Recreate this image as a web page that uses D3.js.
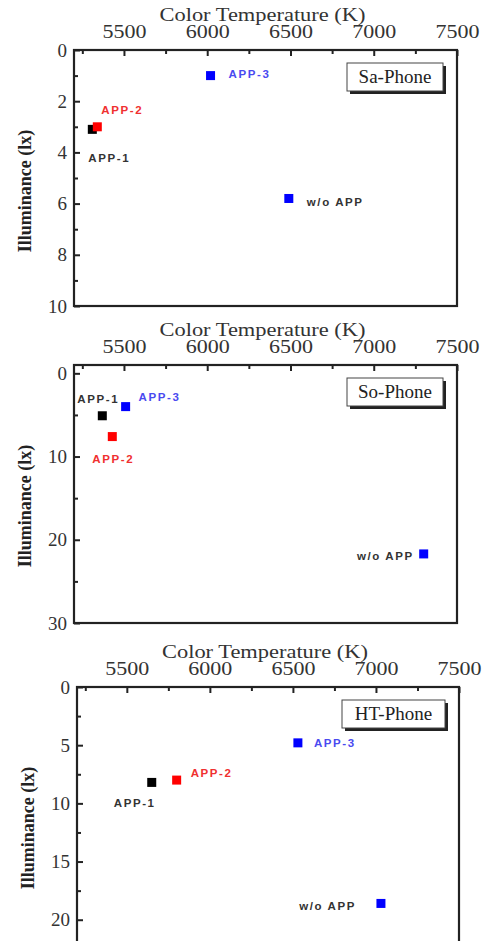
<!DOCTYPE html>
<html>
<head>
<meta charset="utf-8">
<script src="https://cdn.jsdelivr.net/npm/d3@7"></script>
<style>
  body { margin: 0; background: #fff; }
  .axis-title { font-family: "Liberation Serif", serif; font-size: 19px; fill: #333; }
  .y-title { font-family: "Liberation Serif", serif; font-size: 18px; font-weight: bold; fill: #222; }
  .tick-label { font-family: "Liberation Serif", serif; font-size: 19px; fill: #333; }
  .pt-label { font-family: "Liberation Sans", Arial, sans-serif; font-size: 11.5px; font-weight: bold; letter-spacing: 1.6px; }
  .phone-name { font-family: "Liberation Serif", serif; font-size: 19px; fill: #222; }
</style>
</head>
<body>
<div id="chart"></div>
<script>
// values
const pointNames = ["APP-1", "APP-2", "APP-3", "w/o APP"];
const phoneNames = ["Sa-Phone", "So-Phone", "HT-Phone"];

const saTemp = [5310, 5340, 6020, 6490];
const saLux = [3.1, 3.0, 1.0, 5.8];
const soTemp = [5370, 5430, 5510, 7300];
const soLux = [5.1, 7.6, 4.0, 21.7];
const htTemp = [5650, 5800, 6530, 7030];
const htLux = [8.2, 8.0, 4.8, 18.6];

const tempTicks = [5500, 6000, 6500, 7000, 7500];
const tempMinor = [5250, 5750, 6250, 6750, 7250];
const saLuxTicks = [0, 2, 4, 6, 8, 10];
const saLuxMinor = [1, 3, 5, 7, 9];
const soLuxTicks = [0, 10, 20, 30];
const soLuxMinor = [5, 15, 25];
const htLuxTicks = [0, 5, 10, 15, 20];
const htLuxMinor = [2.5, 7.5, 12.5, 17.5];

const tempDomain = [5200, 7500];
const saLuxDomain = [0, 10];
const soLuxDomain = [-1, 30];
const htLuxDomain = [0, 22];

// styles / layout
const markerColors = ["#000", "#ff0000", "#0000ff", "#0000ff"];
const labelColors = ["#333", "#f03030", "#4a4af0", "#333"];

// label offsets from the marker, per panel [dx, dy, anchor]
const saLabelPos = [[-4, 33, "start"], [4, -13, "start"], [18, 2, "start"], [18, 8, "start"]];
const soLabelPos = [[-25, -13, "start"], [-20, 26, "start"], [13, -6, "start"], [-10, 6, "end"]];
const htLabelPos = [[-38, 25, "start"], [14, -3, "start"], [16, 4, "start"], [-25, 7, "end"]];

const svg = d3.select("#chart").append("svg")
    .attr("width", 486)
    .attr("height", 941);

function PhonePanel(svg, opts) {
    let vis = this;
    vis.svg = svg;
    vis.opts = opts;
    vis.initVis();
}

PhonePanel.prototype.initVis = function() {
    let vis = this;
    let o = vis.opts;
    vis.width = o.width;
    vis.height = o.height;

    vis.g = vis.svg.append("g")
        .attr("transform", "translate(" + o.left + "," + o.top + ")");

    vis.x = d3.scaleLinear().domain(tempDomain).range([0, vis.width]);
    vis.y = d3.scaleLinear().domain(o.yDomain).range([0, vis.height]);

    vis.updateVis();
}

PhonePanel.prototype.updateVis = function() {
    let vis = this;
    let o = vis.opts;

    // frame
    vis.g.append("rect")
        .attr("x", 0).attr("y", 0)
        .attr("width", vis.width).attr("height", vis.height)
        .attr("fill", "none")
        .attr("stroke", "#222")
        .attr("stroke-width", 2.2);

    // top axis (ticks point inward)
    let xAxis = vis.g.append("g")
        .call(d3.axisTop(vis.x).tickValues(tempTicks).tickSize(-6).tickPadding(12)
            .tickFormat(d3.format("d")));
    let xMinor = vis.g.append("g")
        .call(d3.axisTop(vis.x).tickValues(tempMinor).tickSize(-4).tickFormat(""));

    // left axis
    let yAxis = vis.g.append("g")
        .call(d3.axisLeft(vis.y).tickValues(o.yTicks).tickSize(-6).tickPadding(7));
    let yMinor = vis.g.append("g")
        .call(d3.axisLeft(vis.y).tickValues(o.yMinor).tickSize(-4).tickFormat(""));

    [xAxis, xMinor, yAxis, yMinor].forEach(a => {
        a.select(".domain").remove();
        a.selectAll(".tick line").attr("stroke", "#222").attr("stroke-width", 2);
    });
    [xAxis, yAxis].forEach(a => {
        a.attr("font-family", null).attr("font-size", null);
        a.selectAll(".tick text").attr("class", "tick-label").attr("fill", null);
    });
    // the source font is wider than Times
    xAxis.selectAll(".tick text")
        .attr("textLength", 44)
        .attr("lengthAdjust", "spacingAndGlyphs");

    // axis titles
    vis.g.append("text")
        .attr("class", "axis-title")
        .attr("x", vis.width / 2 - 3)
        .attr("y", -29)
        .attr("text-anchor", "middle")
        .attr("textLength", 206)
        .attr("lengthAdjust", "spacingAndGlyphs")
        .text("Color Temperature (K)");

    vis.g.append("text")
        .attr("class", "y-title")
        .attr("transform", "translate(" + (-43) + "," + (128 + 13) + ") rotate(-90)")
        .attr("text-anchor", "middle")
        .text("Illuminance (lx)");

    // phone name box with shadow
    let bx = vis.width - 14 - o.boxW, by = 13;
    vis.g.append("rect")
        .attr("x", bx + 3).attr("y", by + 3)
        .attr("width", o.boxW).attr("height", 28)
        .attr("fill", "#222");
    vis.g.append("rect")
        .attr("x", bx).attr("y", by)
        .attr("width", o.boxW).attr("height", 28)
        .attr("fill", "#fff")
        .attr("stroke", "#444")
        .attr("stroke-width", 1);
    vis.g.append("text")
        .attr("class", "phone-name")
        .attr("x", bx + o.boxW / 2)
        .attr("y", by + 20)
        .attr("text-anchor", "middle")
        .text(o.name);

    // points
    let pts = o.temps.map((t, i) => ({t: t, lux: o.lux[i], i: i}));
    vis.g.selectAll(".pt")
        .data(pts)
        .enter()
        .append("rect")
        .attr("class", "pt")
        .attr("x", d => vis.x(d.t) - 4.5)
        .attr("y", d => vis.y(d.lux) - 4.5)
        .attr("width", 9)
        .attr("height", 9)
        .attr("fill", d => markerColors[d.i]);

    vis.g.selectAll(".pt-label")
        .data(pts)
        .enter()
        .append("text")
        .attr("class", "pt-label")
        .attr("x", d => vis.x(d.t) + o.labelPos[d.i][0])
        .attr("y", d => vis.y(d.lux) + o.labelPos[d.i][1])
        .attr("text-anchor", d => o.labelPos[d.i][2])
        .attr("fill", d => labelColors[d.i])
        .text(d => pointNames[d.i]);
}

new PhonePanel(svg, {
    left: 74, top: 50, width: 383, height: 256,
    yDomain: saLuxDomain, yTicks: saLuxTicks, yMinor: saLuxMinor,
    temps: saTemp, lux: saLux, labelPos: saLabelPos,
    name: phoneNames[0], boxW: 96
});
new PhonePanel(svg, {
    left: 74, top: 365, width: 383, height: 258,
    yDomain: soLuxDomain, yTicks: soLuxTicks, yMinor: soLuxMinor,
    temps: soTemp, lux: soLux, labelPos: soLabelPos,
    name: phoneNames[1], boxW: 96
});
new PhonePanel(svg, {
    left: 77, top: 687, width: 382, height: 256,
    yDomain: htLuxDomain, yTicks: htLuxTicks, yMinor: htLuxMinor,
    temps: htTemp, lux: htLux, labelPos: htLabelPos,
    name: phoneNames[2], boxW: 103
});
</script>
</body>
</html>
